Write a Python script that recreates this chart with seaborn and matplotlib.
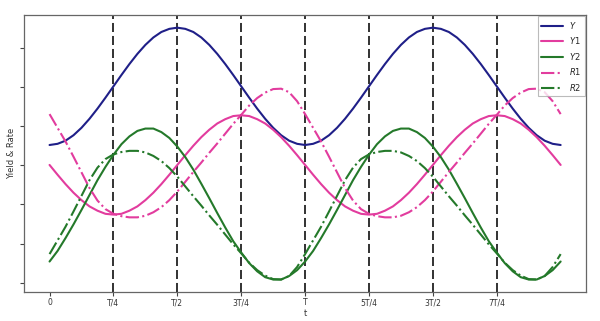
import matplotlib
matplotlib.use("Agg")
import matplotlib.pyplot as plt
import seaborn as sns
import pandas as pd

# sampling grid in units of the period T (0 .. 2T, step T/32)
t = [0.0, 0.03125, 0.0625, 0.09375, 0.125, 0.15625, 0.1875, 0.21875,
     0.25, 0.28125, 0.3125, 0.34375, 0.375, 0.40625, 0.4375, 0.46875,
     0.5, 0.53125, 0.5625, 0.59375, 0.625, 0.65625, 0.6875, 0.71875,
     0.75, 0.78125, 0.8125, 0.84375, 0.875, 0.90625, 0.9375, 0.96875,
     1.0, 1.03125, 1.0625, 1.09375, 1.125, 1.15625, 1.1875, 1.21875,
     1.25, 1.28125, 1.3125, 1.34375, 1.375, 1.40625, 1.4375, 1.46875,
     1.5, 1.53125, 1.5625, 1.59375, 1.625, 1.65625, 1.6875, 1.71875,
     1.75, 1.78125, 1.8125, 1.84375, 1.875, 1.90625, 1.9375, 1.96875,
     2.0]

Y = [3.52, 3.55, 3.63, 3.77, 3.96, 4.19, 4.45, 4.73, 5.02, 5.31, 5.59, 5.85, 6.08, 6.27, 6.41, 6.49,
     6.52, 6.49, 6.41, 6.27, 6.08, 5.85, 5.59, 5.31, 5.02, 4.73, 4.45, 4.19, 3.96, 3.77, 3.63, 3.55,
     3.52, 3.55, 3.63, 3.77, 3.96, 4.19, 4.45, 4.73, 5.02, 5.31, 5.59, 5.85, 6.08, 6.27, 6.41, 6.49,
     6.52, 6.49, 6.41, 6.27, 6.08, 5.85, 5.59, 5.31, 5.02, 4.73, 4.45, 4.19, 3.96, 3.77, 3.63, 3.55,
     3.52]
Y1 = [3.01, 2.76, 2.52, 2.30, 2.11, 1.95, 1.84, 1.76, 1.74, 1.76, 1.84, 1.95, 2.11, 2.30, 2.52, 2.76,
      3.01, 3.26, 3.50, 3.72, 3.91, 4.07, 4.18, 4.26, 4.28, 4.26, 4.18, 4.07, 3.91, 3.72, 3.50, 3.26,
      3.01, 2.76, 2.52, 2.30, 2.11, 1.95, 1.84, 1.76, 1.74, 1.76, 1.84, 1.95, 2.11, 2.30, 2.52, 2.76,
      3.01, 3.26, 3.50, 3.72, 3.91, 4.07, 4.18, 4.26, 4.28, 4.26, 4.18, 4.07, 3.91, 3.72, 3.50, 3.26,
      3.01]
Y2 = [0.54, 0.81, 1.14, 1.49, 1.86, 2.24, 2.62, 2.96, 3.27, 3.54, 3.74, 3.88, 3.94, 3.94, 3.85, 3.70,
      3.48, 3.21, 2.89, 2.53, 2.16, 1.78, 1.41, 1.06, 0.77, 0.50, 0.29, 0.14, 0.08, 0.08, 0.17, 0.32,
      0.54, 0.81, 1.14, 1.49, 1.86, 2.24, 2.62, 2.96, 3.27, 3.54, 3.74, 3.88, 3.94, 3.94, 3.85, 3.70,
      3.48, 3.21, 2.89, 2.53, 2.16, 1.78, 1.41, 1.06, 0.77, 0.50, 0.29, 0.14, 0.08, 0.08, 0.17, 0.32,
      0.54]
R1 = [4.31, 3.96, 3.61, 3.22, 2.82, 2.42, 2.10, 1.88, 1.76, 1.70, 1.67, 1.67, 1.71, 1.80, 1.93, 2.11,
      2.33, 2.58, 2.83, 3.07, 3.32, 3.56, 3.81, 4.06, 4.29, 4.53, 4.72, 4.86, 4.95, 4.96, 4.87, 4.64,
      4.31, 3.96, 3.61, 3.22, 2.82, 2.42, 2.10, 1.88, 1.76, 1.70, 1.67, 1.67, 1.71, 1.80, 1.93, 2.11,
      2.33, 2.58, 2.83, 3.07, 3.32, 3.56, 3.81, 4.06, 4.29, 4.53, 4.72, 4.86, 4.95, 4.96, 4.87, 4.64,
      4.31]
R2 = [0.73, 1.08, 1.43, 1.82, 2.22, 2.62, 2.94, 3.16, 3.28, 3.34, 3.37, 3.37, 3.33, 3.24, 3.11, 2.93,
      2.71, 2.46, 2.21, 1.97, 1.72, 1.48, 1.23, 0.98, 0.75, 0.51, 0.32, 0.18, 0.09, 0.08, 0.17, 0.40,
      0.73, 1.08, 1.43, 1.82, 2.22, 2.62, 2.94, 3.16, 3.28, 3.34, 3.37, 3.37, 3.33, 3.24, 3.11, 2.93,
      2.71, 2.46, 2.21, 1.97, 1.72, 1.48, 1.23, 0.98, 0.75, 0.51, 0.32, 0.18, 0.09, 0.08, 0.17, 0.40,
      0.73]

tick_pos = [0, 0.25, 0.5, 0.75, 1.0, 1.25, 1.5, 1.75]
tick_labels = ["0", "T/4", "T/2", "3T/4", "T", "5T/4", "3T/2", "7T/4"]
vline_pos = [0.25, 0.5, 0.75, 1.0, 1.25, 1.5, 1.75]
ytick_pos = [0, 1, 2, 3, 4, 5, 6]

sns.set_style("ticks")
plt.rcParams['font.family'] = ['DejaVu Sans']

fig, ax = plt.subplots(figsize=(6.0, 3.21), dpi=100)
fig.subplots_adjust(left=0.04, right=0.977, top=0.953, bottom=0.09)

c_navy = "#1f1f88"
c_pink = "#e23c9e"
c_green = "#24792a"

series = [
    ("$Y$", Y, c_navy, "-"),
    ("$Y1$", Y1, c_pink, "-"),
    ("$Y2$", Y2, c_green, "-"),
    ("$R1$", R1, c_pink, "-."),
    ("$R2$", R2, c_green, "-."),
]
for name, vals, col, ls in series:
    df = pd.DataFrame({"t": t, "v": vals})
    sns.lineplot(data=df, x="t", y="v", ax=ax, color=col, linestyle=ls,
                 linewidth=1.5, label=name)

for xv in vline_pos:
    ax.axvline(xv, color="#222222", linestyle=(0, (5, 2.2)), linewidth=1.3, zorder=0)

ax.set_xticks(tick_pos)
ax.set_xticklabels(tick_labels, fontsize=5.5, color="#333333")
ax.set_yticks(ytick_pos)
ax.set_yticklabels([])
ax.tick_params(axis="both", length=3, width=0.8, color="#444444", pad=1.5)
ax.set_xlabel("t", fontsize=6, color="#333333", labelpad=1)
ax.set_ylabel("Yield & Rate", fontsize=6, color="#333333")
ax.yaxis.set_label_coords(-0.0142, 0.5)
for sp in ax.spines.values():
    sp.set_color("#666666")
    sp.set_linewidth(0.9)

leg = ax.legend(loc="upper right", fontsize=6, frameon=True, borderaxespad=0.15,
                handlelength=2.6, labelspacing=0.55, fancybox=False)
leg.get_frame().set_edgecolor("#aaaaaa")
leg.get_frame().set_linewidth(0.8)

fig.savefig("out.png", dpi=100)
